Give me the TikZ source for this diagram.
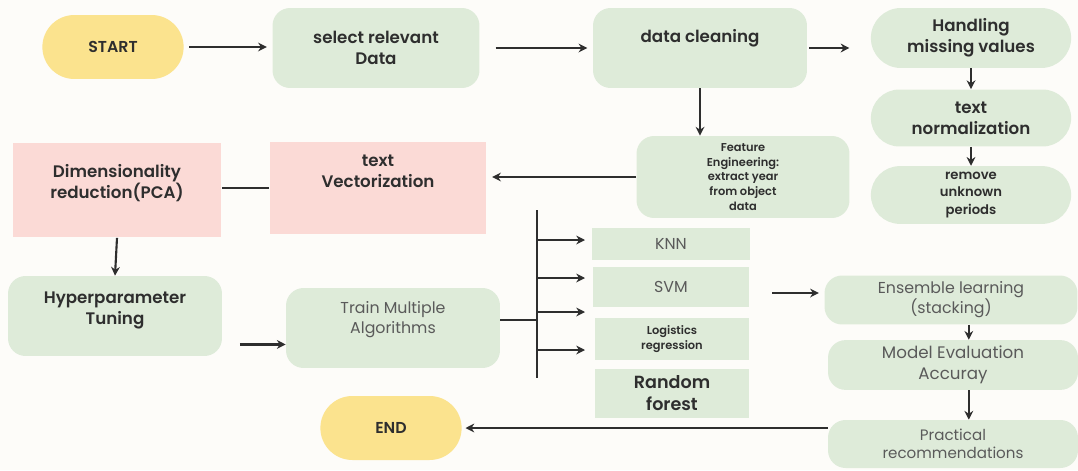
\documentclass[tikz,border=0pt]{standalone}
\usepackage{fontspec}
\setmainfont{Poppins}[BoldFont={Poppins SemiBold}]
\usetikzlibrary{shapes.misc,arrows.meta}
\definecolor{boxgreen}{HTML}{DEEBD9}
\definecolor{boxpink}{HTML}{FBDAD6}
\definecolor{boxyellow}{HTML}{FBE38E}
\definecolor{paper}{HTML}{FDFCF9}
\definecolor{ink}{HTML}{2E2E2E}
\definecolor{soft}{HTML}{5A5A5A}
\tikzset{
  gbox/.style={fill=boxgreen,rounded corners=10pt,align=center,text=ink,font=\bfseries\fontsize{9.5}{12}\selectfont},
  rbox/.style={fill=boxpink,align=center,text=ink,font=\bfseries\fontsize{9.5}{12}\selectfont},
  sbox/.style={fill=boxgreen,align=center,text=ink},
  pill/.style={rounded rectangle,fill=boxgreen,align=center,text=ink,font=\bfseries\fontsize{9.5}{12}\selectfont},
  term/.style={rounded rectangle,fill=boxyellow,text=ink,font=\bfseries\fontsize{9}{11}\selectfont,minimum width=3.06cm,minimum height=1.28cm},
  lbl/.style={align=center,text=ink,font=\bfseries\fontsize{9.5}{12}\selectfont},
  light/.style={text=soft,font=\fontsize{9}{11.5}\selectfont},
  flow/.style={-{Stealth[length=5pt,width=5pt]},draw=ink,line width=1.2pt},
  link/.style={draw=ink,line width=1.2pt}
}
\begin{document}
\begin{tikzpicture}[x=0.02cm,y=-0.02cm]
  \fill[paper] (0,0) rectangle (1078,470);
  \useasboundingbox (0,0) rectangle (1078,470);
  \node[term] (start) at (113,47) {START};
  \node[gbox,minimum width=4.14cm,minimum height=1.6cm] (select) at (376,48) {select relevant\\Data};
  \node[gbox,minimum width=4.28cm,minimum height=1.6cm] (clean) at (700,48) {};
  \node[lbl] (cleanT) at (700,38) {data cleaning};
  \node[pill,minimum width=4.24cm,minimum height=1.2cm] (handle) at (971,38) {Handling\\missing values};
  \node[pill,minimum width=4.24cm,minimum height=1.14cm] (norm) at (971,118) {text\\normalization};
  \node[pill,minimum width=4.24cm,minimum height=1.14cm,font=\bfseries\fontsize{7.5}{10}\selectfont] (unknown) at (971,195) {remove\\unknown\\periods};
  \node[gbox,minimum width=4.26cm,minimum height=1.64cm,font=\bfseries\fontsize{6.5}{8.5}\selectfont] (feat) at (743,177) {Feature\\Engineering:\\extract year\\from object\\data};
  \node[rbox,minimum width=4.34cm,minimum height=1.84cm] (vect) at (378,188) {};
  \node[lbl] (vectT) at (378,171) {text\\Vectorization};
  \node[rbox,minimum width=4.18cm,minimum height=1.9cm] (pca) at (117,190) {};
  \node[lbl] (pcaT) at (117,183) {Dimensionality\\reduction(PCA)};
  \node[gbox,minimum width=4.28cm,minimum height=1.6cm] (hyper) at (115,316) {};
  \node[lbl] (hyperT) at (115,310) {Hyperparameter\\Tuning};
  \node[gbox,minimum width=4.28cm,minimum height=1.6cm] (train) at (393,328) {};
  \node[lbl,light,align=center] (trainT) at (393,320) {Train Multiple\\Algorithms};
  \node[sbox,minimum width=3.16cm,minimum height=0.64cm,light] (knn) at (671,244) {KNN};
  \node[sbox,minimum width=3.14cm,minimum height=0.8cm,light] (svm) at (671,287) {SVM};
  \node[sbox,minimum width=3.1cm,minimum height=0.84cm,font=\bfseries\fontsize{6.5}{8.5}\selectfont] (logreg) at (672,339) {Logistics\\regression};
  \node[sbox,minimum width=3.1cm,minimum height=0.98cm,font=\bfseries\fontsize{10}{12.5}\selectfont] (rf) at (672,393) {Random\\forest};
  \node[gbox,minimum width=5.06cm,minimum height=0.98cm,light,align=center] (ens) at (951,300) {Ensemble learning\\(stacking)};
  \node[gbox,minimum width=5cm,minimum height=0.96cm,light,align=center,font=\fontsize{9.5}{12}\selectfont] (eval) at (953,365) {Model Evaluation\\Accuray};
  \node[gbox,minimum width=5cm,minimum height=0.96cm,light,align=center,font=\fontsize{8.6}{10.5}\selectfont] (prac) at (953,444) {Practical\\recommendations};
  \node[term] (end) at (391,428) {END};
  \draw[flow] ([xshift=3pt]start.east) -- ([xshift=-3pt]select.west |- start.east);
  \draw[flow] ([xshift=9pt]select.east) -- ([xshift=-3pt]clean.west |- select.east);
  \draw[flow] ([xshift=1pt]clean.east) -- ([xshift=-12pt]handle.west |- clean.east);
  \draw[flow] (handle.south) -- (norm.north);
  \draw[flow] (norm.south) -- (unknown.north);
  \draw[flow] (clean.south) -- (clean.south |- feat.north);
  \draw[flow] (feat.west) -- ([xshift=3pt]vect.east |- feat.west);
  \draw[link] (vect.west) -- (pca.east |- vect.west);
  \draw[flow] (pca.south) -- (hyper.north);
  \draw[flow] ([xshift=10pt]hyper.east |- trainT.south) -- (train.west |- trainT.south);
  \coordinate (fork) at (537,320);
  \coordinate (forkTop) at (537,210);
  \coordinate (forkBot) at (537,378);
  \draw[link] (train.east |- fork) -- (fork);
  \draw[link] (forkTop) -- (forkBot);
  \foreach \yy in {240,278,312,350} {
    \coordinate (tip) at (585,\yy);
    \draw[flow] (537,\yy) -- (tip);
  }
  \coordinate (svmOut) at (772,293);
  \draw[flow] (svmOut) -- ([xshift=-3pt]ens.west |- svmOut);
  \draw[flow] ([xshift=9pt]ens.south west -| eval.north) -- ([xshift=9pt]eval.north);
  \draw[flow] ([xshift=9pt]eval.south) -- ([xshift=9pt]prac.north);
  \draw[flow] (prac.west |- end.east) -- ([xshift=2pt]end.east);
\end{tikzpicture}
\end{document}
